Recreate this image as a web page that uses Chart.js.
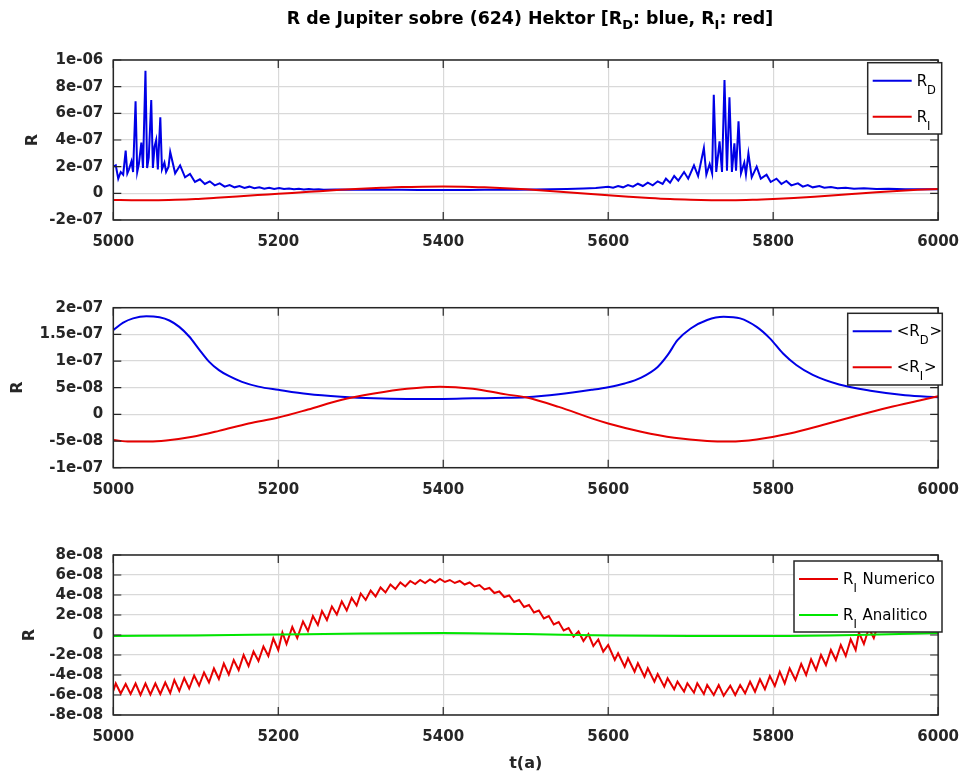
<!DOCTYPE html>
<html>
<head>
<meta charset="utf-8">
<script src="https://cdn.jsdelivr.net/npm/chart.js@4.4.0/dist/chart.umd.min.js"></script>
<style>
  html, body { margin: 0; padding: 0; background: #fff; }
  #wrap { position: relative; width: 972px; height: 774px; overflow: hidden; }
  canvas { position: absolute; left: 0; }
  #title { position: absolute; left: 113px; width: 834px; top: 7px; text-align: center;
           font: bold 17.4px "DejaVu Sans", sans-serif; line-height: 22px; color: #000; white-space: nowrap; }
  #title sub { font-size: 13px; vertical-align: -5px; line-height: 0; }
</style>
</head>
<body>
<div id="wrap">
  <canvas id="c1" width="972" height="260" style="top:0px"></canvas>
  <canvas id="c2" width="972" height="248" style="top:260px"></canvas>
  <canvas id="c3" width="972" height="266" style="top:508px"></canvas>
  <div id="title">R de Jupiter sobre (624) Hektor [R<sub>D</sub>: blue, R<sub>I</sub>: red]</div>
</div>
<script>
// x ticks shared by the three panels
const xTicks = [5000, 5200, 5400, 5600, 5800, 6000];

// panel 1: R_D (blue) and R_I (red)
const topTD = [
  5000,5003,5006,5009,5012,5015,5017,5019,5022,5024,
  5027,5029,5031,5034,5036,5039,5041,5043,5046,5048,
  5050,5052,5054,5057,5059,5062,5064,5067,5069,5075,
  5081,5087,5093,5099,5105,5111,5117,5123,5129,5135,
  5141,5147,5153,5159,5165,5171,5177,5183,5189,5195,
  5201,5207,5213,5219,5225,5231,5237,5243,5249,5255,
  5270,5290,5310,5330,5350,5370,5390,5410,5430,5450,
  5470,5490,5510,5530,5550,5570,5585,5600,5606,5612,
  5618,5624,5630,5636,5642,5648,5654,5660,5666,5670,
  5675,5680,5685,5692,5697,5704,5709,5716,5719,5723,
  5726,5728,5731,5735,5738,5741,5744,5747,5750,5753,
  5755,5758,5761,5765,5767,5770,5774,5780,5785,5792,
  5797,5804,5810,5816,5822,5830,5836,5842,5848,5856,
  5862,5870,5878,5888,5898,5910,5925,5940,5960,5980,
  6000
];
const topRD = [
  2.0e-7,2.1e-7,1.1e-7,1.6e-7,1.4e-7,3.2e-7,1.5e-7,1.8e-7,2.4e-7,1.6e-7,
  6.9e-7,1.6e-7,2.2e-7,3.8e-7,1.9e-7,9.2e-7,1.9e-7,2.7e-7,7.0e-7,1.9e-7,
  3.5e-7,4.0e-7,1.8e-7,5.7e-7,1.8e-7,2.3e-7,1.6e-7,2.0e-7,3.1e-7,1.5e-7,
  2.1e-7,1.2e-7,1.45e-7,0.85e-7,1.05e-7,0.7e-7,0.9e-7,0.6e-7,0.75e-7,0.5e-7,
  0.62e-7,0.45e-7,0.55e-7,0.4e-7,0.5e-7,0.38e-7,0.45e-7,0.35e-7,0.42e-7,0.33e-7,
  0.4e-7,0.32e-7,0.37e-7,0.3e-7,0.35e-7,0.29e-7,0.33e-7,0.28e-7,0.31e-7,0.27e-7,
  0.29e-7,0.27e-7,0.27e-7,0.26e-7,0.26e-7,0.25e-7,0.25e-7,0.25e-7,0.25e-7,0.26e-7,
  0.26e-7,0.27e-7,0.28e-7,0.3e-7,0.32e-7,0.36e-7,0.4e-7,0.5e-7,0.42e-7,0.55e-7,
  0.45e-7,0.62e-7,0.5e-7,0.72e-7,0.55e-7,0.8e-7,0.6e-7,0.9e-7,0.7e-7,1.1e-7,
  0.8e-7,1.3e-7,0.95e-7,1.6e-7,1.1e-7,2.1e-7,1.3e-7,3.4e-7,1.4e-7,2.2e-7,
  1.5e-7,7.4e-7,1.6e-7,3.9e-7,1.6e-7,8.5e-7,1.7e-7,7.2e-7,1.6e-7,3.75e-7,
  1.7e-7,5.4e-7,1.5e-7,2.3e-7,1.4e-7,3.0e-7,1.2e-7,2.0e-7,1.1e-7,1.4e-7,
  0.85e-7,1.1e-7,0.7e-7,0.93e-7,0.6e-7,0.75e-7,0.5e-7,0.62e-7,0.45e-7,0.55e-7,
  0.42e-7,0.48e-7,0.38e-7,0.42e-7,0.35e-7,0.38e-7,0.33e-7,0.34e-7,0.31e-7,0.3e-7,
  0.3e-7
];
const topTI = [
  5000,5025,5050,5075,5100,5125,5150,5175,5200,5225,
  5250,5275,5300,5325,5350,5375,5400,5425,5450,5475,
  5500,5525,5550,5575,5600,5625,5650,5675,5700,5725,
  5750,5775,5800,5825,5850,5875,5900,5925,5950,5975,
  6000
];
const topRI = [
  -5.0e-8,-5.2e-8,-5.2e-8,-4.9e-8,-4.3e-8,-3.3e-8,-2.3e-8,-1.3e-8,-0.4e-8,0.6e-8,
  1.6e-8,2.6e-8,3.4e-8,4.1e-8,4.7e-8,5.0e-8,5.1e-8,5.0e-8,4.5e-8,3.8e-8,
  3.0e-8,2.0e-8,0.9e-8,-0.3e-8,-1.4e-8,-2.5e-8,-3.5e-8,-4.3e-8,-4.8e-8,-5.1e-8,
  -5.2e-8,-4.9e-8,-4.3e-8,-3.5e-8,-2.5e-8,-1.4e-8,-0.3e-8,0.8e-8,1.8e-8,2.6e-8,
  3.3e-8
];
const topYTicks = [-2e-7, 0, 2e-7, 4e-7, 6e-7, 8e-7, 1e-6];

// panel 2: <R_D> and <R_I>
const midTD = [
  5000,5012,5024,5040,5056,5068,5080,5092,5104,5116,
  5128,5140,5156,5176,5200,5236,5276,5316,5356,5400,
  5436,5476,5500,5540,5580,5600,5620,5640,5660,5672,
  5684,5700,5720,5740,5760,5780,5796,5812,5828,5848,
  5880,5920,5960,6000
];
const midRD = [
  15.8e-8,17.2e-8,18.0e-8,18.4e-8,18.2e-8,17.6e-8,16.4e-8,14.6e-8,12.2e-8,9.9e-8,
  8.3e-8,7.2e-8,6.1e-8,5.2e-8,4.6e-8,3.8e-8,3.3e-8,3.0e-8,2.9e-8,2.9e-8,
  3.0e-8,3.1e-8,3.2e-8,3.75e-8,4.6e-8,5.1e-8,5.8e-8,6.9e-8,8.9e-8,11.1e-8,
  13.9e-8,16.1e-8,17.7e-8,18.3e-8,18.0e-8,16.4e-8,14.25e-8,11.4e-8,9.25e-8,7.4e-8,
  5.6e-8,4.4e-8,3.6e-8,3.2e-8
];
const midTI = [
  5000,5020,5044,5064,5096,5128,5164,5200,5236,5276,
  5316,5356,5396,5436,5476,5500,5540,5580,5600,5640,
  5680,5720,5748,5780,5820,5860,5900,5940,5980,6000
];
const midRI = [
  -4.8e-8,-5.1e-8,-5.1e-8,-4.9e-8,-4.2e-8,-3.1e-8,-1.7e-8,-0.6e-8,0.9e-8,2.7e-8,
  3.9e-8,4.8e-8,5.2e-8,4.8e-8,3.75e-8,3.2e-8,1.4e-8,-0.75e-8,-1.7e-8,-3.25e-8,
  -4.4e-8,-5.0e-8,-5.1e-8,-4.7e-8,-3.6e-8,-2.0e-8,-0.3e-8,1.3e-8,2.7e-8,3.4e-8
];
const midYTicks = [-1e-7, -5e-8, 0, 5e-8, 1e-7, 1.5e-7, 2e-7];

// panel 3: R_I numerico (red) and R_I analitico (green)
const botTN = [
  5000,5003,5009,5015,5021,5027,5033,5039,5045,5051,
  5057,5063,5069,5074,5080,5086,5092,5098,5104,5110,
  5116,5122,5128,5134,5140,5146,5152,5158,5164,5170,
  5176,5182,5188,5194,5200,5205,5210,5217,5223,5230,
  5236,5242,5248,5253,5259,5265,5271,5277,5283,5289,
  5295,5300,5306,5312,5318,5324,5330,5336,5342,5348,
  5354,5360,5366,5372,5378,5384,5390,5396,5402,5408,
  5414,5420,5426,5432,5438,5444,5450,5456,5462,5468,
  5474,5480,5486,5492,5498,5504,5510,5516,5522,5528,
  5534,5540,5546,5552,5558,5564,5570,5576,5582,5588,
  5594,5600,5608,5612,5620,5624,5632,5636,5644,5648,
  5656,5660,5668,5672,5680,5684,5692,5696,5704,5708,
  5716,5720,5728,5734,5740,5748,5754,5760,5766,5772,
  5778,5784,5790,5796,5802,5808,5814,5820,5827,5834,
  5840,5846,5852,5858,5864,5870,5876,5882,5888,5894,
  5900,5904,5910,5916,5922,5928,5934,5940,5946,5952,
  5958,5964,5970,5976,5982,5988,5994,6000
];
const botRN = [
  -5.6e-8,-4.85e-8,-5.85e-8,-4.9e-8,-5.9e-8,-4.85e-8,-6.0e-8,-4.85e-8,-5.95e-8,-4.85e-8,
  -5.9e-8,-4.75e-8,-5.8e-8,-4.5e-8,-5.6e-8,-4.3e-8,-5.35e-8,-4.05e-8,-5.05e-8,-3.75e-8,
  -4.75e-8,-3.35e-8,-4.4e-8,-2.85e-8,-3.95e-8,-2.5e-8,-3.5e-8,-2.0e-8,-3.1e-8,-1.65e-8,
  -2.6e-8,-1.15e-8,-2.1e-8,-0.35e-8,-1.5e-8,0.25e-8,-0.9e-8,0.8e-8,-0.3e-8,1.35e-8,
  0.4e-8,1.9e-8,1.0e-8,2.4e-8,1.5e-8,2.85e-8,2.05e-8,3.35e-8,2.45e-8,3.7e-8,
  2.95e-8,4.15e-8,3.5e-8,4.45e-8,3.85e-8,4.75e-8,4.25e-8,5.05e-8,4.6e-8,5.25e-8,
  4.85e-8,5.4e-8,5.1e-8,5.5e-8,5.2e-8,5.55e-8,5.25e-8,5.6e-8,5.3e-8,5.5e-8,
  5.2e-8,5.4e-8,5.05e-8,5.25e-8,4.85e-8,5.0e-8,4.55e-8,4.7e-8,4.2e-8,4.35e-8,
  3.8e-8,3.95e-8,3.3e-8,3.5e-8,2.8e-8,3.0e-8,2.25e-8,2.45e-8,1.65e-8,1.9e-8,
  1.05e-8,1.3e-8,0.45e-8,0.7e-8,-0.15e-8,0.35e-8,-0.6e-8,0.1e-8,-1.1e-8,-0.45e-8,
  -1.67e-8,-1.0e-8,-2.5e-8,-1.83e-8,-3.17e-8,-2.33e-8,-3.67e-8,-2.83e-8,-4.17e-8,-3.33e-8,
  -4.67e-8,-3.9e-8,-5.17e-8,-4.33e-8,-5.43e-8,-4.67e-8,-5.67e-8,-4.83e-8,-5.77e-8,-4.83e-8,
  -5.9e-8,-5.0e-8,-6.0e-8,-5.0e-8,-6.07e-8,-5.07e-8,-6.0e-8,-5.0e-8,-5.83e-8,-4.67e-8,
  -5.67e-8,-4.43e-8,-5.43e-8,-4.1e-8,-5.1e-8,-3.67e-8,-4.83e-8,-3.33e-8,-4.5e-8,-2.9e-8,
  -4.0e-8,-2.43e-8,-3.5e-8,-2.0e-8,-3.0e-8,-1.5e-8,-2.5e-8,-1.0e-8,-2.1e-8,-0.43e-8,
  -1.5e-8,0.23e-8,-0.9e-8,0.67e-8,-0.3e-8,1.3e-8,0.5e-8,1.9e-8,1.0e-8,2.4e-8,
  1.6e-8,2.9e-8,2.1e-8,3.2e-8,2.6e-8,3.5e-8,3.0e-8,3.9e-8
];
const botTA = [5000, 5100, 5200, 5300, 5400, 5500, 5600, 5700, 5800, 5900, 6000];
const botRA = [-1e-9, -5e-10, 5e-10, 1.5e-9, 2e-9, 1e-9, -5e-10, -1e-9, -1e-9, 0, 2e-9];
const botYTicks = [-8e-8, -6e-8, -4e-8, -2e-8, 0, 2e-8, 4e-8, 6e-8, 8e-8];

const axisColor = '#262626';
const gridColor = '#d9d9d9';
const blue = '#0000e6', red = '#e60000', green = '#00e600';
Chart.defaults.font.family = '"DejaVu Sans", sans-serif';

function pts(xs, ys) { return xs.map((x, i) => ({ x: x, y: ys[i] })); }

// MATLAB style labels: 1e-06, 1.5e-07, 0
function fmt(v) {
  if (Math.abs(v) < 1e-20) return '0';
  return Number(v.toPrecision(4)).toExponential().replace(/e([+-])(\d)$/, 'e$10$2');
}

// box, inward ticks on all four sides
const frame = {
  id: 'frame',
  afterDraw(chart) {
    const { ctx, chartArea: a, scales: { x, y } } = chart;
    ctx.save();
    ctx.strokeStyle = axisColor;
    ctx.lineWidth = 1.2;
    ctx.beginPath();
    x.ticks.forEach(t => {
      const px = x.getPixelForValue(t.value);
      ctx.moveTo(px, a.bottom); ctx.lineTo(px, a.bottom - 8);
      ctx.moveTo(px, a.top); ctx.lineTo(px, a.top + 8);
    });
    y.ticks.forEach(t => {
      const py = y.getPixelForValue(t.value);
      ctx.moveTo(a.left, py); ctx.lineTo(a.left + 8, py);
      ctx.moveTo(a.right, py); ctx.lineTo(a.right - 8, py);
    });
    ctx.stroke();
    ctx.lineWidth = 1.5;
    ctx.strokeRect(a.left, a.top, a.right - a.left, a.bottom - a.top);
    ctx.restore();
  }
};

// legend box with subscripts
function boxLegend(box, items) {
  return {
    id: 'boxLegend',
    afterDraw(chart) {
      const ctx = chart.ctx;
      ctx.save();
      ctx.fillStyle = '#fff';
      ctx.fillRect(box.x, box.y, box.w, box.h);
      ctx.strokeStyle = axisColor;
      ctx.lineWidth = 1.5;
      ctx.strokeRect(box.x, box.y, box.w, box.h);
      items.forEach((parts, i) => {
        const ly = box.y + 18 + i * 36;
        ctx.strokeStyle = chart.data.datasets[i].borderColor;
        ctx.lineWidth = 2;
        ctx.beginPath();
        ctx.moveTo(box.x + 5, ly);
        ctx.lineTo(box.x + 44, ly);
        ctx.stroke();
        let tx = box.x + 49;
        ctx.fillStyle = '#000';
        ctx.textBaseline = 'alphabetic';
        parts.forEach(p => {
          ctx.font = (p.sub ? '11.5px' : '15px') + ' "DejaVu Sans", sans-serif';
          ctx.fillText(p.t, tx, ly + (p.sub ? 13 : 5));
          tx += ctx.measureText(p.t).width + (p.sub ? 1 : 0);
        });
      });
      ctx.restore();
    }
  };
}

function makeChart(id, datasets, c) {
  return new Chart(document.getElementById(id), {
    type: 'line',
    data: { datasets: datasets },
    options: {
      responsive: false,
      animation: false,
      devicePixelRatio: 1,
      layout: { padding: { top: c.padTop, right: 25.3, left: 0, bottom: 0 } },
      plugins: { legend: { display: false }, tooltip: { enabled: false } },
      elements: { point: { radius: 0 }, line: { borderWidth: 2, tension: 0 } },
      scales: {
        x: {
          type: 'linear', min: 5000, max: 6000,
          afterFit: s => { s.height = c.xHeight; },
          afterBuildTicks: s => { s.ticks = xTicks.map(v => ({ value: v })); },
          grid: { color: gridColor, lineWidth: 1.2, drawTicks: false },
          border: { display: false },
          ticks: { padding: 13, color: axisColor, font: { size: 15, weight: 'bold' },
                   maxRotation: 0, autoSkip: false, callback: v => String(v) },
          title: c.xTitle
            ? { display: true, text: c.xTitle, color: axisColor, font: { size: 16, weight: 'bold' },
                padding: { top: 0, bottom: 1 } }
            : { display: false }
        },
        y: {
          type: 'linear', min: c.yTicks[0], max: c.yTicks[c.yTicks.length - 1],
          afterFit: s => { s.width = 113.3; },
          afterBuildTicks: s => { s.ticks = c.yTicks.map(v => ({ value: v })); },
          grid: { color: gridColor, lineWidth: 1.2, drawTicks: false },
          border: { display: false },
          ticks: { padding: 10, color: axisColor, font: { size: 15, weight: 'bold' },
                   autoSkip: false, callback: v => fmt(v) },
          title: { display: true, text: 'R', color: axisColor, font: { size: 16, weight: 'bold' },
                   padding: { top: c.yTitlePad, bottom: 0 } }
        }
      }
    },
    plugins: [frame, boxLegend(c.box, c.items)]
  });
}

makeChart('c1', [
  { label: 'R_D', data: pts(topTD, topRD), borderColor: blue, order: 1 },
  { label: 'R_I', data: pts(topTI, topRI), borderColor: red, order: 0, cubicInterpolationMode: 'monotone' }
], {
  padTop: 60, xHeight: 40, yTicks: topYTicks, yTitlePad: 23.4,
  box: { x: 867.7, y: 62.7, w: 74, h: 71.3 },
  items: [[{ t: 'R' }, { t: 'D', sub: true }], [{ t: 'R' }, { t: 'I', sub: true }]]
});

makeChart('c2', [
  { label: '<R_D>', data: pts(midTD, midRD), borderColor: blue, order: 1, cubicInterpolationMode: 'monotone' },
  { label: '<R_I>', data: pts(midTI, midRI), borderColor: red, order: 0, cubicInterpolationMode: 'monotone' }
], {
  padTop: 47.7, xHeight: 40.3, yTicks: midYTicks, yTitlePad: 8.4,
  box: { x: 847.7, y: 53.3, w: 94.6, h: 71.7 },
  items: [[{ t: '<R' }, { t: 'D', sub: true }, { t: '>' }], [{ t: '<R' }, { t: 'I', sub: true }, { t: '>' }]]
});

makeChart('c3', [
  { label: 'R_I Numerico', data: pts(botTN, botRN), borderColor: red, order: 1 },
  { label: 'R_I Analitico', data: pts(botTA, botRA), borderColor: green, order: 0, cubicInterpolationMode: 'monotone' }
], {
  padTop: 47, xHeight: 59, yTicks: botYTicks, yTitlePad: 20.4, xTitle: 't(a)',
  box: { x: 794, y: 53, w: 148, h: 71 },
  items: [[{ t: 'R' }, { t: 'I', sub: true }, { t: ' Numerico' }], [{ t: 'R' }, { t: 'I', sub: true }, { t: ' Analitico' }]]
});
</script>
</body>
</html>
